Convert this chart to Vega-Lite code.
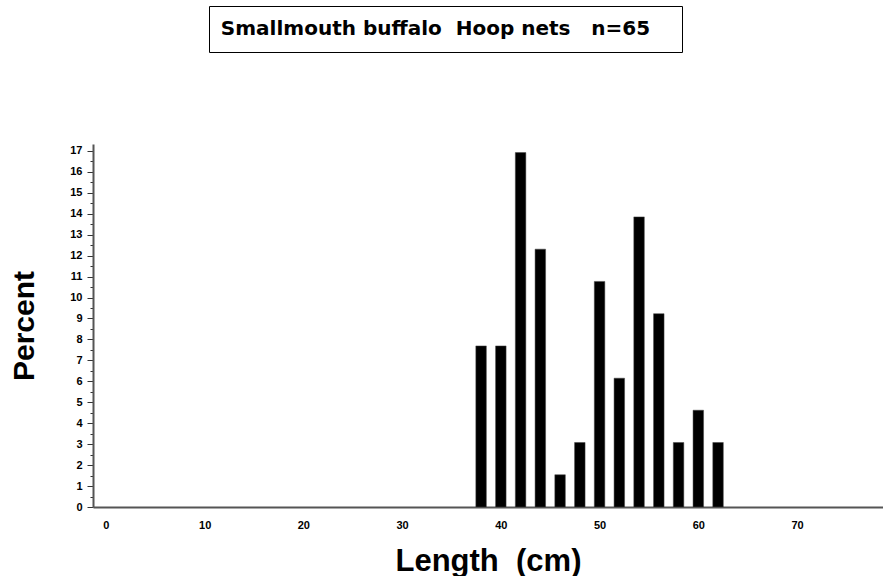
{
  "$schema": "https://vega.github.io/schema/vega-lite/v6.json",
  "padding": {"left": 9, "top": 5, "right": 0, "bottom": 0},
  "background": "white",
  "spacing": 91,
  "config": {"view": {"stroke": null}},
  "vconcat": [
    {
      "spacing": 0,
      "hconcat": [
        {
          "width": 115,
          "height": 46,
          "data": {"values": [{"t": ""}]},
          "mark": {"type": "text", "opacity": 0},
          "encoding": {"text": {"field": "t"}}
        },
        {
          "width": 473,
          "height": 46,
          "view": {"stroke": "black", "strokeWidth": 1},
          "data": {"values": [{"t": "Smallmouth buffalo\u00a0\u00a0Hoop nets\u00a0\u00a0\u00a0n=65"}]},
          "mark": {"type": "text", "font": "DejaVu Sans", "fontWeight": "bold", "fontSize": 20, "color": "black", "dx": -10},
          "encoding": {"text": {"field": "t"}}
        }
      ]
    },
    {
      "width": 790,
      "height": 363,
      "data": {"values": [
        {"length": 38, "percent": 7.69},
        {"length": 40, "percent": 7.69},
        {"length": 42, "percent": 16.92},
        {"length": 44, "percent": 12.31},
        {"length": 46, "percent": 1.54},
        {"length": 48, "percent": 3.08},
        {"length": 50, "percent": 10.77},
        {"length": 52, "percent": 6.15},
        {"length": 54, "percent": 13.85},
        {"length": 56, "percent": 9.23},
        {"length": 58, "percent": 3.08},
        {"length": 60, "percent": 4.62},
        {"length": 62, "percent": 3.08}
      ]},
      "mark": {"type": "bar", "size": 10.5, "color": "black", "stroke": "#444", "strokeWidth": 0.5},
      "encoding": {
        "x": {
          "field": "length", "type": "quantitative",
          "scale": {"domain": [-0.8, 78.2], "nice": false, "zero": false},
          "axis": {
            "values": [0, 10, 20, 30, 40, 50, 60, 70],
            "format": "d",
            "title": "Length\u00a0\u00a0(cm)",
            "ticks": false, "grid": false,
            "domainColor": "#555", "domainWidth": 2,
            "labelFont": "Liberation Sans", "labelFontWeight": "bold", "labelFontSize": 11, "labelColor": "black",
            "labelPadding": 12,
            "titleFont": "Liberation Sans", "titleFontWeight": "bold", "titleFontSize": 31, "titleColor": "black",
            "titlePadding": 16
          }
        },
        "y": {
          "field": "percent", "type": "quantitative",
          "scale": {"domain": [0, 17.33], "nice": false},
          "axis": {
            "values": [0, 0.5, 1, 1.5, 2, 2.5, 3, 3.5, 4, 4.5, 5, 5.5, 6, 6.5, 7, 7.5, 8, 8.5, 9, 9.5, 10, 10.5, 11, 11.5, 12, 12.5, 13, 13.5, 14, 14.5, 15, 15.5, 16, 16.5, 17],
            "labelExpr": "datum.value % 1 === 0 ? format(datum.value, 'd') : ''",
            "tickSize": {"condition": {"test": "datum.value % 1 !== 0", "value": 3}, "value": 6},
            "tickColor": "#333",
            "grid": false,
            "domainColor": "#555", "domainWidth": 2,
            "labelFont": "Liberation Sans", "labelFontWeight": "bold", "labelFontSize": 11, "labelColor": "black",
            "labelPadding": 5,
            "labelFlush": false, "labelOverlap": false,
            "title": "Percent",
            "titleFont": "Liberation Sans", "titleFontWeight": "bold", "titleFontSize": 30, "titleColor": "black",
            "titlePadding": 30
          }
        }
      }
    }
  ]
}
